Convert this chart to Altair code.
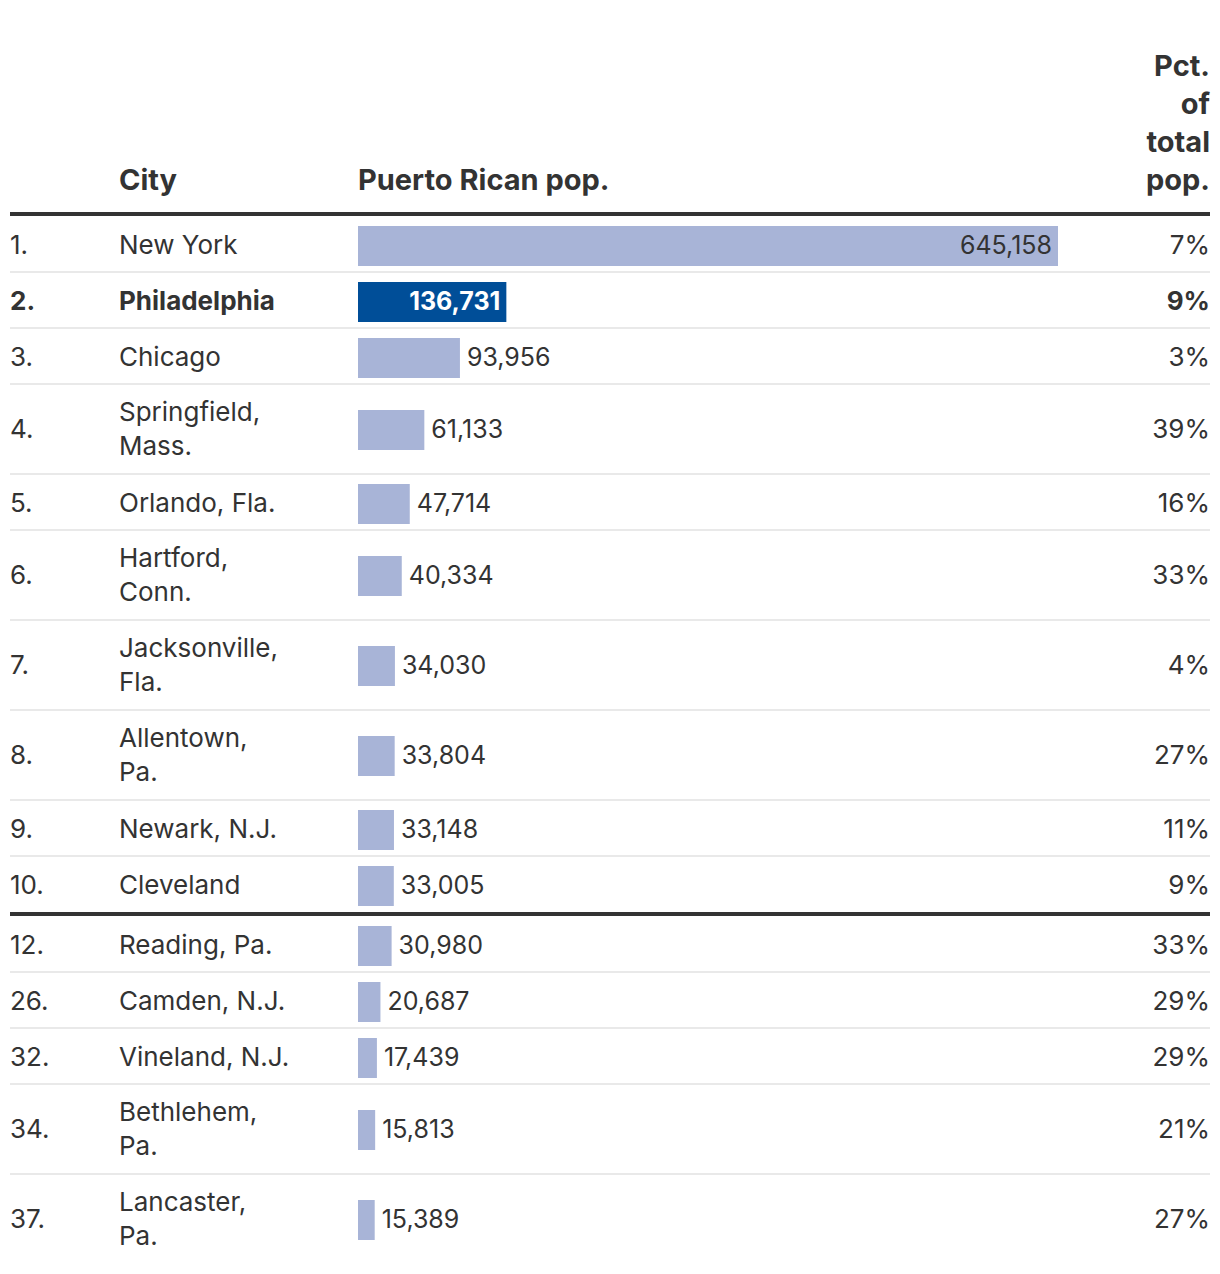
import altair as alt
import pandas as pd

# ---- data ----
ranks = ["1.", "2.", "3.", "4.", "5.", "6.", "7.", "8.", "9.", "10.",
         "12.", "26.", "32.", "34.", "37."]
cities = ["New York", "Philadelphia", "Chicago", "Springfield,\nMass.",
          "Orlando, Fla.", "Hartford,\nConn.", "Jacksonville,\nFla.",
          "Allentown,\nPa.", "Newark, N.J.", "Cleveland", "Reading, Pa.",
          "Camden, N.J.", "Vineland, N.J.", "Bethlehem,\nPa.", "Lancaster,\nPa."]
pops = [645158, 136731, 93956, 61133, 47714, 40334, 34030, 33804, 33148,
        33005, 30980, 20687, 17439, 15813, 15389]
pcts = [7, 9, 3, 39, 16, 33, 4, 27, 11, 9, 33, 29, 29, 21, 27]
headers = ["City", "Puerto Rican pop.", "Pct.\nof\ntotal\npop."]
highlight_city = "Philadelphia"
top_n = 10

# ---- layout ----
W, H = 1204, 1266
HEADER_BOTTOM = 208
ONE_LINE, TWO_LINE, DIVIDER = 56, 90, 4
LINE_H = 34
FONT = "Inter"
TEXT = "#333333"
BAR = "#a8b4d7"
BAR_HL = "#004e98"

rows = []
y = HEADER_BOTTOM
for i, (r, c, p, q) in enumerate(zip(ranks, cities, pops, pcts)):
    n = c.count("\n") + 1
    h = ONE_LINE if n == 1 else TWO_LINE
    mid = y + h / 2 + (2 if n == 1 else 1)
    rows.append(dict(rank=r, city=c, pop=p, pct=f"{q}%", top=y, bot=y + h,
                     mid=mid, cty=mid - (n - 1) * LINE_H / 2,
                     b0=mid - 20, b1=mid + 20,
                     hl=(c == highlight_city), label=f"{p:,}",
                     inside=(p >= 100000),
                     last=(i == len(ranks) - 1), divider=(i == top_n - 1)))
    y += h
    if i == top_n - 1:
        y += DIVIDER
df = pd.DataFrame(rows)

lines = [dict(y=HEADER_BOTTOM - 2, kind="thick")]
for rw in rows:
    if rw["divider"]:
        lines.append(dict(y=rw["bot"] + 2, kind="thick"))
    elif not rw["last"]:
        lines.append(dict(y=rw["bot"], kind="thin"))
ldf = pd.DataFrame(lines)

ysc = alt.Scale(domain=[0, H], range=[0, H], nice=False, zero=False)
xsc = alt.Scale(domain=[0, max(pops)], range=[350, 1050], nice=False, zero=False)

base = alt.Chart(df)
norm = base.transform_filter(~alt.datum.hl)
bold = base.transform_filter(alt.datum.hl)

thin = alt.Chart(ldf).transform_filter(alt.datum.kind == "thin").mark_rule(
    color="#e9e9e9", strokeWidth=2).encode(
    y=alt.Y("y:Q", scale=ysc, axis=None), x=alt.value(2), x2=alt.value(1202))
thick = alt.Chart(ldf).transform_filter(alt.datum.kind == "thick").mark_rule(
    color=TEXT, strokeWidth=4).encode(
    y=alt.Y("y:Q", scale=ysc, axis=None), x=alt.value(2), x2=alt.value(1202))

bars = base.mark_rect().encode(
    x=alt.X("pop:Q", scale=xsc, axis=None), x2=alt.datum(0),
    y=alt.Y("b0:Q", scale=ysc, axis=None), y2="b1:Q",
    color=alt.condition(alt.datum.hl, alt.value(BAR_HL), alt.value(BAR)))

VAL_FS = 25
lab_in = norm.transform_filter(alt.datum.inside).mark_text(
    font=FONT, fontSize=VAL_FS, align="right", baseline="middle", dx=-6,
    color=TEXT).encode(
    x=alt.X("pop:Q", scale=xsc), y=alt.Y("mid:Q", scale=ysc), text="label:N")
lab_hl = bold.transform_filter(alt.datum.inside).mark_text(
    font=FONT, fontSize=VAL_FS, fontWeight="bold", align="right", baseline="middle",
    dx=-6, color="white").encode(
    x=alt.X("pop:Q", scale=xsc), y=alt.Y("mid:Q", scale=ysc), text="label:N")
lab_out = base.transform_filter(~alt.datum.inside).mark_text(
    font=FONT, fontSize=VAL_FS, align="left", baseline="middle", dx=7,
    color=TEXT).encode(
    x=alt.X("pop:Q", scale=xsc), y=alt.Y("mid:Q", scale=ysc), text="label:N")

def col_text(src, field, yfield, xpos, align, weight):
    return src.mark_text(font=FONT, fontSize=26, fontWeight=weight, align=align,
                         baseline="middle", lineBreak="\n", lineHeight=LINE_H,
                         color=TEXT).encode(
        x=alt.value(xpos), y=alt.Y(f"{yfield}:Q", scale=ysc), text=f"{field}:N")

cols = []
for src, w in ((norm, "normal"), (bold, "bold")):
    cols.append(col_text(src, "rank", "mid", 2, "left", w))
    cols.append(col_text(src, "city", "cty", 111, "left", w))
    cols.append(col_text(src, "pct", "mid", 1202, "right", w))

hdf = pd.DataFrame({"h": headers})
def header(i, xpos, align, ypos):
    return alt.Chart(hdf).transform_filter(alt.datum.h == headers[i]).mark_text(
        font=FONT, fontSize=29, fontWeight="bold", align=align,
        baseline="alphabetic", lineBreak="\n", lineHeight=38, color=TEXT).encode(
        x=alt.value(xpos), y=alt.value(ypos), text="h:N")

h1 = header(0, 111, "left", 182)
h2 = header(1, 350, "left", 182)
h3 = header(2, 1202, "right", 68)

chart = alt.layer(thin, thick, bars, lab_in, lab_hl, lab_out, *cols,
                  h1, h2, h3).properties(
    width=W, height=H, autosize=alt.AutoSizeParams(type="none"),
    padding=0, background="white").configure_view(stroke=None)

chart.save("out.html", embed_options={"renderer": "svg", "actions": False})
